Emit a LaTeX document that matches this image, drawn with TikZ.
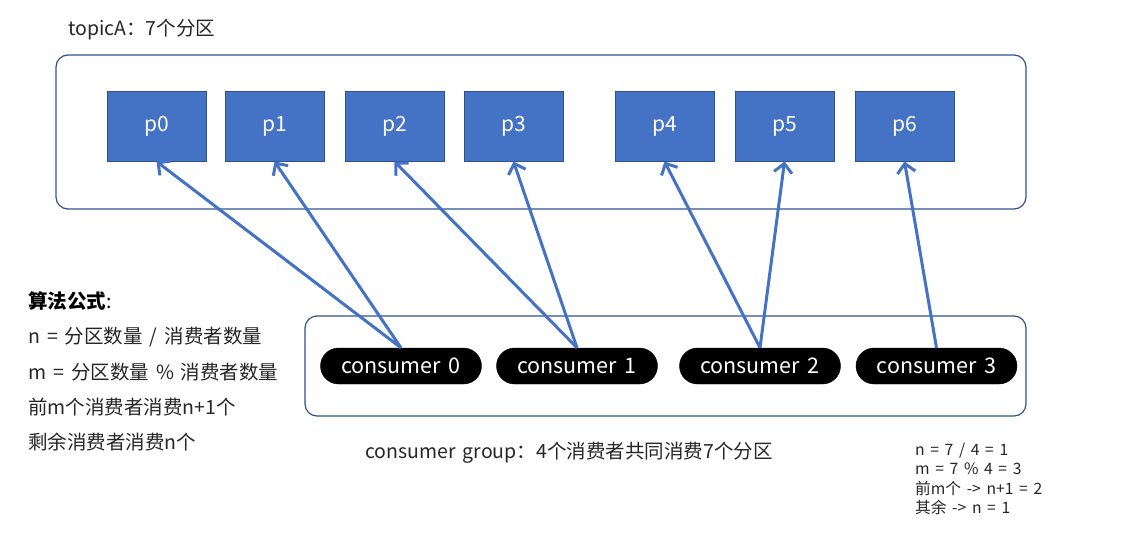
\documentclass[tikz,border=0pt]{standalone}
\usepackage{fontspec}
\setmainfont{Noto Sans CJK SC}[WordSpace=1.6]
\usetikzlibrary{arrows.meta,shapes.misc}
\definecolor{pblue}{HTML}{4472C4}
\definecolor{pborder}{HTML}{2F528F}
\definecolor{txt}{HTML}{262626}
\tikzset{
  part/.style={draw=pborder, line width=1pt, fill=pblue, minimum width=99pt, minimum height=70pt, inner sep=0pt, text=white, font=\fontsize{21}{21}\selectfont},
  cons/.style={rounded rectangle, fill=black, draw=black, minimum width=161pt, minimum height=36pt, inner sep=0pt, text=white, font=\fontsize{21.5}{21.5}\selectfont},
  frame/.style={draw=pborder, line width=1.2pt, rounded corners=12pt},
  link/.style={pblue, line width=3pt, -{Straight Barb[length=9pt,width=18pt,line width=3pt]}},
  lbl/.style={anchor=west, inner sep=0pt, text=txt, font=\fontsize{19.5}{19.5}\selectfont},
  small/.style={anchor=west, inner sep=0pt, text=txt, font=\fontsize{15.7}{15.7}\selectfont}
}
\begin{document}
\begin{tikzpicture}[x=1pt,y=-1pt]
\useasboundingbox (0,0) rectangle (1148,536);
\fill[white] (0,0) rectangle (1148,536);
\node[lbl] (title) at (68,30) {topicA：7个分区};
\draw[frame] (56,55) rectangle (1026,209);
\node[part] (p0) at (156.5,126) {p0};
\node[part] (p1) at (274.5,126) {p1};
\node[part] (p2) at (394.5,126) {p2};
\node[part] (p3) at (513.5,126) {p3};
\node[part] (p4) at (664.5,126) {p4};
\node[part] (p5) at (784.5,126) {p5};
\node[part] (p6) at (904.5,126) {p6};
\draw[frame] (305,316) rectangle (1026,416);
\node[cons] (c0) at (401,366) {consumer 0};
\node[cons] (c1) at (577,366) {consumer 1};
\node[cons] (c2) at (760,366) {consumer 2};
\node[cons] (c3) at (936.5,366) {consumer 3};
\draw[link] (c0.north) -- (p0.south);
\draw[link] (c0.north) -- (p1.south);
\draw[link] (c1.north) -- (p2.south);
\draw[link] (c1.north) -- (p3.south);
\draw[link] (c2.north) -- (p4.south);
\draw[link] (c2.north) -- (p5.south);
\draw[link] (c3.north) -- (p6.south);
\node[lbl, text=black] (f0) at (28,301) {\textbf{算法公式}:};
\node[lbl] (f1) at (28,337) {n = 分区数量 / 消费者数量};
\node[lbl] (f2) at (28,372) {m = 分区数量 \% 消费者数量};
\node[lbl] (f3) at (28,407) {前m个消费者消费n+1个};
\node[lbl] (f4) at (28,442) {剩余消费者消费n个};
\node[lbl] (grp) at (365,453) {consumer group：4个消费者共同消费7个分区};
\node[small] (r1) at (915,451) {n = 7 / 4 = 1};
\node[small] (r2) at (915,469) {m = 7 \% 4 = 3};
\node[small] (r3) at (915,488) {前m个 -> n+1 = 2};
\node[small] (r4) at (915,507) {其余 -> n = 1};
\end{tikzpicture}
\end{document}
